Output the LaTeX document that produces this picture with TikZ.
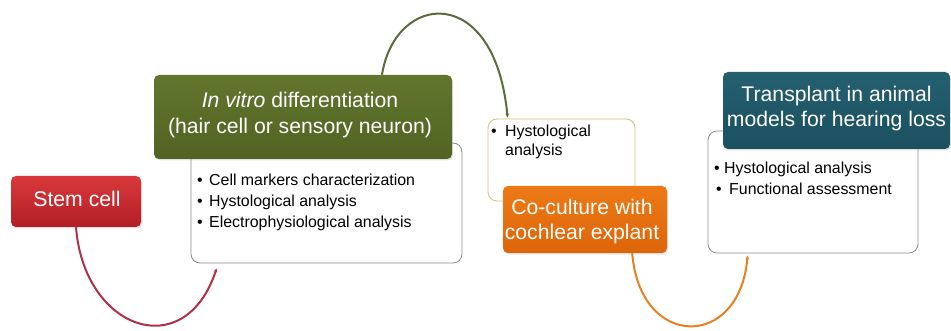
\documentclass[tikz,border=0pt]{standalone}
\usepackage{fontspec}
\setmainfont{Liberation Sans}
\usetikzlibrary{arrows.meta,calc,shadows}
\newcommand\bigf{\fontsize{21.2}{25}\selectfont}
\newcommand\smlf{\fontsize{15.9}{19}\selectfont}
\definecolor{stemtop}{HTML}{D8383B}
\definecolor{stembot}{HTML}{B21F26}
\definecolor{vitrotop}{HTML}{62762E}
\definecolor{vitrobot}{HTML}{506322}
\definecolor{oratop}{HTML}{EC7A16}
\definecolor{orabot}{HTML}{DE650A}
\definecolor{tealtop}{HTML}{245F70}
\definecolor{tealbot}{HTML}{1B5060}
\definecolor{redline}{HTML}{B0304A}
\definecolor{greenline}{HTML}{5B6B3C}
\definecolor{orangeline}{HTML}{E8801F}
\definecolor{boxgray}{HTML}{8C8C86}
\definecolor{boxtan}{HTML}{D4C27A}
\tikzset{
  colbox/.style={minimum width=#1, inner sep=0pt, rounded corners=5pt,
    drop shadow={shadow xshift=1pt, shadow yshift=-1.5pt, opacity=0.25}},
  whitebox/.style={draw=boxgray, fill=white, line width=0.8pt, inner sep=0pt, rounded corners=9pt},
  bigtxt/.style={text=white, font=\bigf, anchor=base, inner sep=0pt},
  smltxt/.style={text=black, font=\smlf, anchor=base west, inner sep=0pt},
  link/.style={line width=2pt, -{Stealth[length=4pt,width=3.5pt]}}
}
\begin{document}
\begin{tikzpicture}[x=1pt,y=-1pt]
\useasboundingbox (0,0) rectangle (951,331);
% white boxes
\node[whitebox, minimum width=271pt, minimum height=120pt] (wb1) at (326.5,203) {};
\node[whitebox, draw=boxtan, minimum width=147pt, minimum height=82pt] (hyst) at (561.5,160) {};
\node[whitebox, minimum width=210pt, minimum height=122pt] (wb3) at (813,192) {};
% coloured boxes
\node[colbox=130pt, minimum height=51pt, top color=stemtop, bottom color=stembot] (stem) at (76,201.5) {};
\node[colbox=298pt, minimum height=84pt, top color=vitrotop, bottom color=vitrobot] (vitro) at (303,117) {};
\node[colbox=164pt, minimum height=67pt, top color=oratop, bottom color=orabot] (cocult) at (585,219.5) {};
\node[colbox=227pt, minimum height=77pt, top color=tealtop, bottom color=tealbot] (transp) at (836.5,110.5) {};
% big texts
\node[bigtxt] (tstem) at (77,207) {Stem cell};
\node[bigtxt] (tvitroa) at (300,108) {\textit{In vitro} differentiation};
\node[bigtxt] (tvitrob) at (300,134) {(hair cell or sensory neuron)};
\node[bigtxt] (tcoa) at (582,215) {Co-culture with};
\node[bigtxt] (tcob) at (582,240) {cochlear explant};
\node[bigtxt] (ttra) at (836.5,102) {Transplant in animal};
\node[bigtxt] (ttrb) at (836.5,127) {models for hearing loss};
% small texts
\node[smltxt] (l1a) at (197,186) {\makebox[12pt][l]{•}Cell markers characterization};
\node[smltxt] (l1b) at (197,207) {\makebox[12pt][l]{•}Hystological analysis};
\node[smltxt] (l1c) at (197,228) {\makebox[12pt][l]{•}Electrophysiological analysis};
\node[smltxt] (l2a) at (491,137) {\makebox[14pt][l]{•}Hystological};
\node[smltxt] (l2b) at (505,156) {analysis};
\node[smltxt] (l3a) at (714,174) {\makebox[10pt][l]{•}Hystological analysis};
\node[smltxt] (l3b) at (716,195) {\makebox[13pt][l]{•}Functional assessment};
% connectors
\draw[link, redline] (stem.south) .. controls (84,330) and (185,365) .. ($(wb1.south west)+(26,5)$);
\draw[link, greenline] ($(vitro.north)+(79,0)$) .. controls (395,-8) and (495,-18) .. ($(hyst.north west)+(20,-1)$);
\draw[link, orangeline] ($(cocult.south east)+(-35,0)$) .. controls (640,350) and (740,350) .. ($(wb3.south west)+(40,2)$);
\end{tikzpicture}
\end{document}
